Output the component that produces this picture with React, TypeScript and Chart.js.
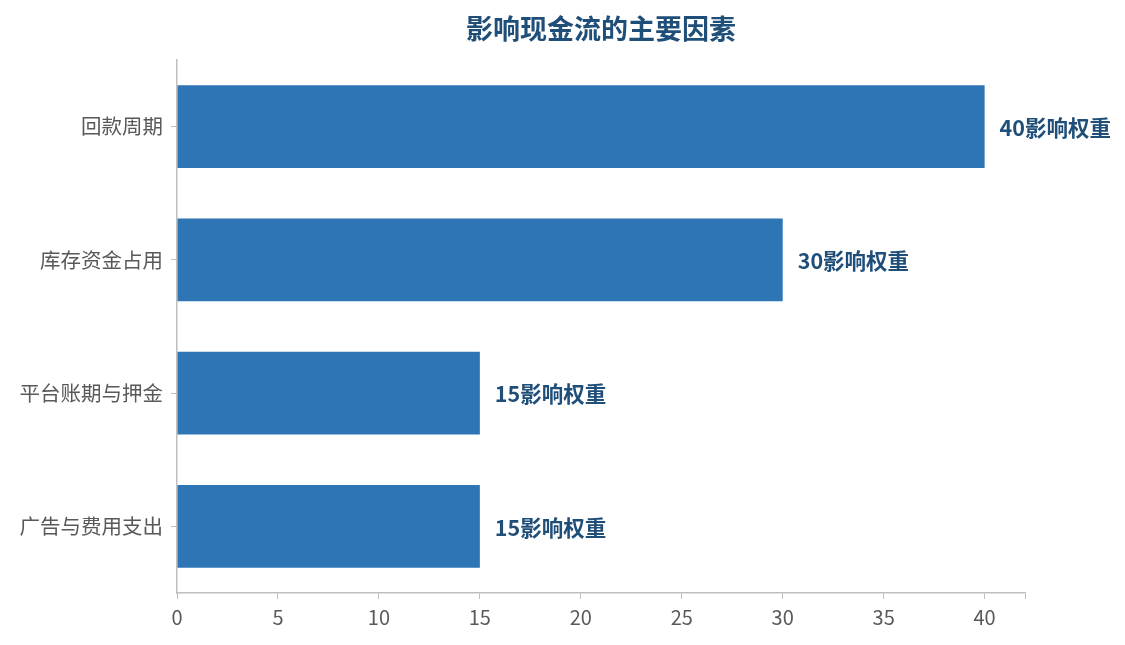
import React, { useEffect, useRef } from "react";
import { Chart, registerables } from "chart.js";

Chart.register(...registerables);

const categories = ["回款周期", "库存资金占用", "平台账期与押金", "广告与费用支出"];
const values = [40, 30, 15, 15];
const labelSuffix = "影响权重";
const titleText = "影响现金流的主要因素";

const FONT = "'Noto Sans CJK SC', 'Noto Sans', sans-serif";

const barLabels = {
  id: "barLabels",
  afterDatasetsDraw(chart: any) {
    const ctx = chart.ctx;
    const meta = chart.getDatasetMeta(0);
    ctx.save();
    ctx.font = `bold 21.5px ${FONT}`;
    ctx.fillStyle = "#1f4e79";
    ctx.textAlign = "left";
    ctx.textBaseline = "middle";
    meta.data.forEach((bar: any, i: number) => {
      ctx.fillText(`${values[i]}${labelSuffix}`, bar.x + 15, bar.y + 1);
    });
    ctx.restore();
  },
};

const centeredTitle = {
  id: "centeredTitle",
  afterDraw(chart: any) {
    const ctx = chart.ctx;
    const area = chart.chartArea;
    ctx.save();
    ctx.font = `bold 27px ${FONT}`;
    ctx.fillStyle = "#1f4e79";
    ctx.textAlign = "center";
    ctx.textBaseline = "middle";
    ctx.fillText(titleText, (area.left + area.right) / 2, 29);
    ctx.restore();
  },
};

export default function App() {
  const ref = useRef<HTMLCanvasElement | null>(null);
  useEffect(() => {
    document.body.style.margin = "0";
    const chart = new Chart(ref.current as HTMLCanvasElement, {
      type: "bar",
      data: {
        labels: categories,
        datasets: [
          {
            data: values,
            backgroundColor: "#2e75b6",
            barPercentage: 0.62,
            categoryPercentage: 1,
          },
        ],
      },
      options: {
        indexAxis: "y",
        animation: false,
        responsive: false,
        layout: { padding: { left: 0, right: 100, top: 60, bottom: 0 } },
        plugins: {
          legend: { display: false },
          tooltip: { enabled: false },
          title: { display: false },
        },
        scales: {
          x: {
            min: 0,
            max: 42,
            ticks: {
              stepSize: 5,
              color: "#595959",
              font: { family: FONT, size: 20 },
              padding: 6,
              callback: (v: any) => (Number(v) % 5 === 0 ? String(v) : ""),
            },
            grid: {
              display: true,
              drawOnChartArea: false,
              drawTicks: true,
              tickLength: 6,
              color: "#bfbfbf",
            },
            border: { color: "#bfbfbf", width: 1.5 },
            afterFit: (s: any) => {
              s.height = 52;
            },
          },
          y: {
            ticks: {
              color: "#595959",
              font: { family: FONT, size: 20.5 },
              padding: 8,
            },
            grid: {
              display: true,
              offset: false,
              drawOnChartArea: false,
              drawTicks: true,
              tickLength: 6,
              color: "#bfbfbf",
            },
            border: { color: "#bfbfbf", width: 1.5 },
            afterFit: (s: any) => {
              s.width = 177;
            },
          },
        },
      },
      plugins: [barLabels, centeredTitle],
    });
    return () => chart.destroy();
  }, []);
  return (
    <div style={{ width: 1125, height: 645 }}>
      <canvas ref={ref} width={1125} height={645} style={{ width: 1125, height: 645 }} />
    </div>
  );
}
